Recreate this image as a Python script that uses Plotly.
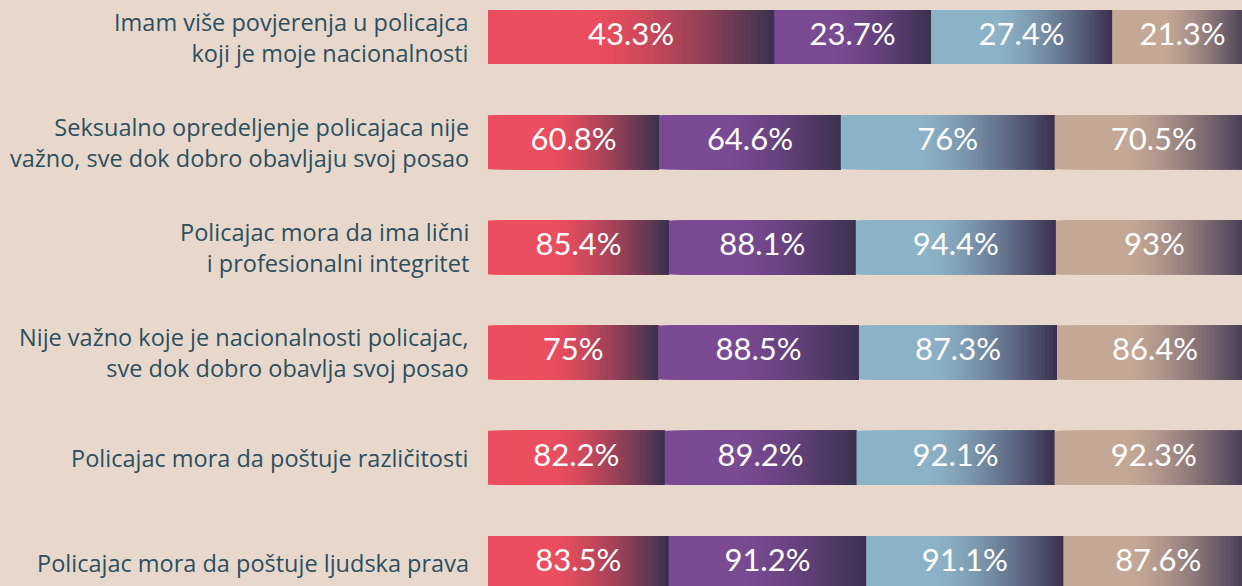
import plotly.graph_objects as go

categories = [
    "Imam više povjerenja u policajca<br>koji je moje nacionalnosti",
    "Seksualno opredeljenje policajaca nije<br>važno, sve dok dobro obavljaju svoj posao",
    "Policajac mora da ima lični<br>i profesionalni integritet",
    "Nije važno koje je nacionalnosti policajac,<br>sve dok dobro obavlja svoj posao",
    "Policajac mora da poštuje različitosti",
    "Policajac mora da poštuje ljudska prava",
]
series1 = [43.3, 60.8, 85.4, 75.0, 82.2, 83.5]
series2 = [23.7, 64.6, 88.1, 88.5, 89.2, 91.2]
series3 = [27.4, 76.0, 94.4, 87.3, 92.1, 91.1]
series4 = [21.3, 70.5, 93.0, 86.4, 92.3, 87.6]
labels1 = ["43.3%", "60.8%", "85.4%", "75%", "82.2%", "83.5%"]
labels2 = ["23.7%", "64.6%", "88.1%", "88.5%", "89.2%", "91.2%"]
labels3 = ["27.4%", "76%", "94.4%", "87.3%", "92.1%", "91.1%"]
labels4 = ["21.3%", "70.5%", "93%", "86.4%", "92.3%", "87.6%"]

series = [series1, series2, series3, series4]
labels = [labels1, labels2, labels3, labels4]
base_colors = ["#eb4e5e", "#7a4a93", "#8cb2c7", "#c4a896"]
dark = (0x3c, 0x32, 0x50)
BG = "#e8d8cc"

def hex2rgb(h):
    h = h.lstrip("#")
    return tuple(int(h[i:i + 2], 16) for i in (0, 2, 4))

def mix(c, t):
    return "rgb(%d,%d,%d)" % tuple(round(a + (b - a) * t) for a, b in zip(c, dark))

n_rows = len(categories)
ys = list(range(n_rows))
totals = [sum(s[i] for s in series) for i in range(n_rows)]
fracs = [[s[i] / totals[i] * 100 for i in range(n_rows)] for s in series]
starts = []
acc = [0.0] * n_rows
for f in fracs:
    starts.append(list(acc))
    acc = [a + v for a, v in zip(acc, f)]

fig = go.Figure()
N = 50
T0 = 0.35
for si, f in enumerate(fracs):
    c = hex2rgb(base_colors[si])
    for k in range(N):
        pos = k / N
        t = 0.0 if pos < T0 else (pos - T0) / (1 - T0 - 1.0 / N)
        t = min(1.0, t) ** 1.4
        fig.add_trace(go.Bar(
            orientation="h",
            y=ys,
            x=[f[i] * (1 - pos) for i in range(n_rows)],
            base=[starts[si][i] + f[i] * pos for i in range(n_rows)],
            width=0.513,
            marker=dict(color=mix(c, t), line=dict(width=0)),
            hoverinfo="skip",
            showlegend=False,
        ))

for si, f in enumerate(fracs):
    fig.add_trace(go.Scatter(
        x=[starts[si][i] + f[i] / 2 for i in range(n_rows)],
        y=ys,
        mode="text",
        text=labels[si],
        textfont=dict(family="Lato", size=31, color="white"),
        textposition="middle center",
        hoverinfo="skip",
        showlegend=False,
        cliponaxis=False,
    ))

for i, cat in enumerate(categories):
    fig.add_annotation(
        x=0, y=i, xref="paper", yref="y",
        text=cat, showarrow=False,
        xanchor="right", yanchor="middle", align="right",
        xshift=-17,
        font=dict(family="Open Sans", size=23.5, color="#2c4f5e"),
    )

fig.update_layout(
    width=1242, height=586,
    margin=dict(l=488, r=0, t=0, b=0),
    paper_bgcolor=BG, plot_bgcolor=BG,
    barmode="overlay",
    xaxis=dict(range=[0, 98.56], visible=False, fixedrange=True),
    yaxis=dict(range=[5.219, -0.352], visible=False, fixedrange=True),
)

fig.write_html(
    "out.html",
    config={"displayModeBar": False},
    post_script="document.body.style.margin='0';document.body.style.background='#e8d8cc';",
)
